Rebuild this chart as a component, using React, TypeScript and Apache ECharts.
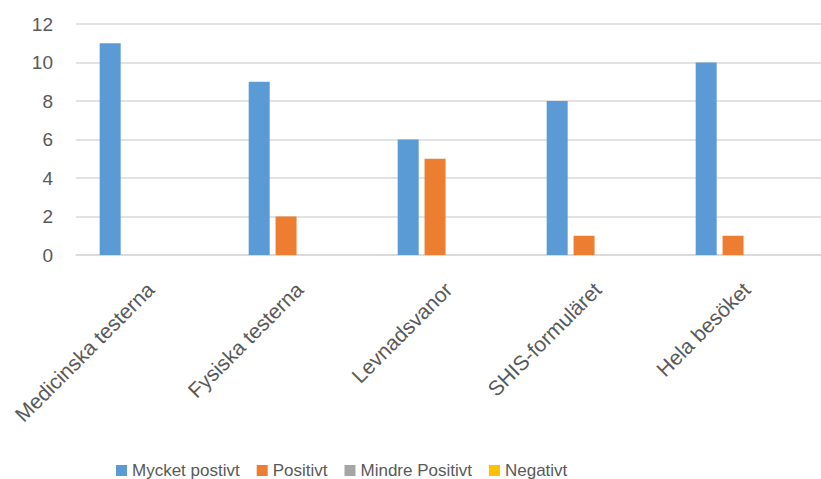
import React, { useEffect, useRef } from "react";
import * as echarts from "echarts";

const categories = ["Medicinska testerna", "Fysiska testerna", "Levnadsvanor", "SHIS-formuläret", "Hela besöket"];
const seriesNames = ["Mycket postivt", "Positivt", "Mindre Positivt", "Negativt"];
const mycketPositivt = [11, 9, 6, 8, 10];
const positivt = [0, 2, 5, 1, 1];
const mindrePositivt = [0, 0, 0, 0, 0];
const negativt = [0, 0, 0, 0, 0];
const yTicks = [0, 2, 4, 6, 8, 10, 12];
const colors = ["#5B9BD5", "#ED7D31", "#A5A5A5", "#FFC000"];

export default function App() {
  const ref = useRef<HTMLDivElement>(null);
  useEffect(() => {
    if (!ref.current) return;
    const chart = echarts.init(ref.current, undefined, { renderer: "svg" });
    const values = [mycketPositivt, positivt, mindrePositivt, negativt];
    const font = "'Liberation Sans', Arial, sans-serif";
    chart.setOption({
      animation: false,
      color: colors,
      textStyle: { fontFamily: font },
      grid: { left: 76, top: 24, width: 754, height: 231, containLabel: false },
      legend: {
        top: 462,
        left: 116,
        icon: "rect",
        itemWidth: 11,
        itemHeight: 11,
        itemGap: 17,
        padding: 0,
        textStyle: { fontSize: 17, color: "#595959", fontFamily: font },
        data: seriesNames,
      },
      xAxis: {
        type: "category",
        data: categories,
        axisLine: { lineStyle: { color: "#D9D9D9", width: 1.5 } },
        axisTick: { show: false },
        axisLabel: { rotate: 45, fontSize: 21, color: "#595959", margin: 31, interval: 0 },
      },
      yAxis: {
        type: "value",
        min: yTicks[0],
        max: yTicks[yTicks.length - 1],
        interval: yTicks[1] - yTicks[0],
        axisLine: { show: false },
        axisTick: { show: false },
        axisLabel: { fontSize: 19, color: "#595959", margin: 23 },
        splitLine: { lineStyle: { color: "#D9D9D9", width: 1.5 } },
      },
      series: seriesNames.map((name, i) => ({
        name,
        type: "bar",
        data: values[i],
        barWidth: 21,
        barGap: "28%",
        itemStyle: { color: colors[i] },
      })),
    });
    return () => chart.dispose();
  }, []);
  return (
    <div
      ref={ref}
      style={{ position: "absolute", left: 0, top: 0, width: 821, height: 479, background: "#fff" }}
    />
  );
}
